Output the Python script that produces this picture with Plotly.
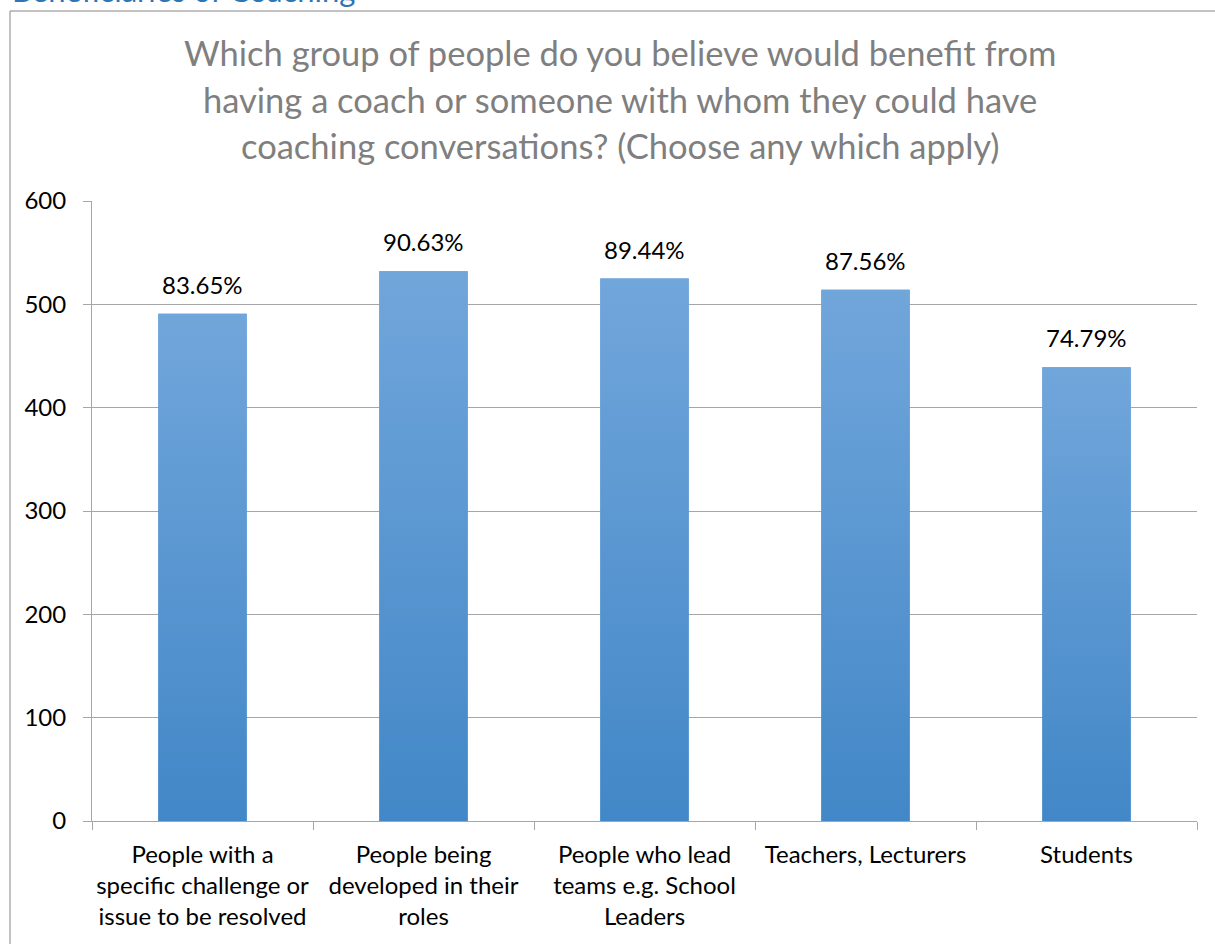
import plotly.graph_objects as go

# Survey data
categories = [
    "People with a<br>specific challenge or<br>issue to be resolved",
    "People being<br>developed in their<br>roles",
    "People who lead<br>teams e.g. School<br>Leaders",
    "Teachers, Lecturers",
    "Students",
]
percentages = [83.65, 90.63, 89.44, 87.56, 74.79]
respondents = 587
counts = [round(p * respondents / 100) for p in percentages]
pct_labels = [f"{p:.2f}%" for p in percentages]

title_lines = [
    "Which group of people do you believe would benefit from",
    "having a coach or someone with whom they could have",
    "coaching conversations? (Choose any which apply)",
]
header = "Beneficiaries of Coaching"

FONT = "Lato"
GRID = "#A6A6A6"
TOP_BLUE = "#71A6DB"
BOTTOM_BLUE = "#4287C7"
BAR_W = 0.4
LABEL_SIZE = 24
TITLE_SIZE = 34.5

W, H = 1215, 944
L, R, T, B = 92, 18, 201, 123
plot_w = W - L - R
plot_h = H - T - B


def px_x(px):
    return (px - L) / plot_w


def px_y(py):
    return (H - B - py) / plot_h


fig = go.Figure()

# base bars on the category axis
fig.add_trace(go.Bar(
    x=categories, y=counts, width=BAR_W,
    marker=dict(color="#5A97D1", line=dict(width=0)),
    hoverinfo="skip", showlegend=False,
))

# gradient overlay for each bar
for i, v in enumerate(counts):
    fig.add_trace(go.Scatter(
        x=[i - BAR_W / 2, i + BAR_W / 2, i + BAR_W / 2, i - BAR_W / 2, i - BAR_W / 2],
        y=[0, 0, v, v, 0],
        xaxis="x2", mode="lines", line=dict(width=0),
        fill="toself",
        fillgradient=dict(type="vertical",
                          colorscale=[[0, BOTTOM_BLUE], [1, TOP_BLUE]]),
        hoverinfo="skip", showlegend=False,
    ))

annotations = []
# value labels
for c, v, lab in zip(categories, counts, pct_labels):
    annotations.append(dict(
        x=c, y=v, xref="x", yref="y", text=lab, showarrow=False,
        yanchor="bottom", yshift=13,
        font=dict(family=FONT, size=LABEL_SIZE, color="#000000"),
    ))

# chart title lines
title_baselines = [65, 112, 158]
for line, by in zip(title_lines, title_baselines):
    annotations.append(dict(
        x=px_x(620), y=px_y(by + 10), xref="paper", yref="paper",
        text=line, showarrow=False, xanchor="center", yanchor="bottom",
        font=dict(family=FONT, size=TITLE_SIZE, color="#7F7F7F"),
    ))

# section header above the frame
annotations.append(dict(
    x=px_x(10), y=px_y(11), xref="paper", yref="paper",
    text=header, showarrow=False, xanchor="left", yanchor="bottom",
    font=dict(family=FONT, size=31, color="#2E75B6"),
))

# chart frame: left and top edges (the rest runs past the page)
fx0, fy_top, fy_bot, fx_right = px_x(10), px_y(11), px_y(960), px_x(1230)
frame_path = f"M {fx0},{fy_bot} L {fx0},{fy_top} L {fx_right},{fy_top}"

fig.update_layout(
    width=W, height=H,
    margin=dict(l=L, r=R, t=T, b=B, autoexpand=False),
    paper_bgcolor="white", plot_bgcolor="white",
    font=dict(family=FONT, size=LABEL_SIZE, color="#000000"),
    showlegend=False,
    bargap=0.6,
    xaxis=dict(
        type="category", tickson="boundaries", tickangle=0,
        showline=True, linecolor=GRID, linewidth=1,
        ticks="outside", ticklen=8, tickcolor=GRID,
        showgrid=False,
        tickfont=dict(family=FONT, size=LABEL_SIZE, color="#000000"),
        ticklabelstandoff=12,
    ),
    xaxis2=dict(overlaying="x", type="linear", range=[-0.5, 4.5],
                visible=False, fixedrange=True),
    yaxis=dict(
        range=[0, 600], dtick=100, tick0=0,
        showline=True, linecolor=GRID, linewidth=1,
        ticks="outside", ticklen=8, tickcolor=GRID,
        showgrid=True, gridcolor=GRID, gridwidth=1,
        zeroline=False,
        tickfont=dict(family=FONT, size=LABEL_SIZE, color="#000000"),
        ticklabelstandoff=12,
    ),
    annotations=annotations,
    shapes=[dict(
        type="path", xref="paper", yref="paper", path=frame_path,
        line=dict(color="#868686", width=1), layer="below",
    )],
)

fig.write_html("out.html")
